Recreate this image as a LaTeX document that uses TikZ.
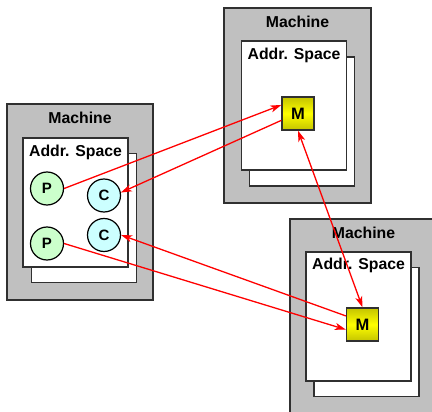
\documentclass[tikz,border=0pt]{standalone}
\usepackage{fontspec}
\setmainfont{Liberation Sans}
\usetikzlibrary{arrows.meta,calc}
\definecolor{machinegray}{HTML}{C0C0C0}
\definecolor{edgegray}{HTML}{303030}
\definecolor{pgreen}{HTML}{CCFFCC}
\definecolor{ccyan}{HTML}{CCFFFF}
\definecolor{olive}{HTML}{C4C400}
\tikzset{
  machine/.style={rectangle, draw=edgegray, fill=machinegray, line width=1.4pt, inner sep=0pt},
  page/.style={rectangle, draw=edgegray, fill=white, line width=1.4pt, inner sep=0pt,
               minimum width=105pt, minimum height=129pt},
  title/.style={font=\fontsize{15.8}{18}\selectfont\bfseries, inner sep=0pt},
  proc/.style={circle, draw=black, line width=1.2pt, minimum size=33pt, inner sep=0pt,
               font=\fontsize{15}{17}\selectfont\bfseries},
  pnode/.style={proc, fill=pgreen},
  cnode/.style={proc, fill=ccyan},
  mnode/.style={rectangle, draw=edgegray, line width=1.2pt, minimum width=32pt, minimum height=33pt,
                inner sep=0pt, top color=olive, bottom color=olive, middle color=yellow,
                font=\fontsize{16.5}{18}\selectfont\bfseries},
  tip/.tip={Stealth[length=11pt,width=7pt,inset=3pt]},
  link/.style={draw=red, line width=1.3pt, -tip},
  biglink/.style={draw=red, line width=1.3pt, tip-tip}
}
\begin{document}
\begin{tikzpicture}[x=1pt, y=-1pt]
\useasboundingbox (0,0) rectangle (432,412);
\begin{scope}
\clip (0,0) rectangle (432,412);

% machine on the left
\node[machine, minimum width=146pt, minimum height=196pt] (mA) at (80,202) {};
\node[page] (bA) at (84,218) {};
\node[page] (fA) at (75.5,202.5) {};
\node[title] (tA) at (80,118) {Machine};
\node[title] (sA) at (75.5,152) {Addr. Space};
\node[pnode] (P1) at (47,188.5) {P};
\node[pnode] (P2) at (47,243.5) {P};
\node[cnode] (C1) at (104,195.5) {C};
\node[cnode] (C2) at (104,235) {C};

% machine at the top
\node[machine, minimum width=147pt, minimum height=195pt] (mB) at (297.5,105.5) {};
\node[page] (bB) at (302,121.5) {};
\node[page] (fB) at (294,105.5) {};
\node[title] (tB) at (297.5,22) {Machine};
\node[title] (sB) at (294,55) {Addr. Space};
\node[mnode] (Mt) at (298,113.5) {M};

% machine at the bottom right
\node[machine, minimum width=147pt, minimum height=195pt] (mC) at (363.5,316.5) {};
\node[page] (bC) at (366.5,332) {};
\node[page] (fC) at (358.5,316.5) {};
\node[title] (tC) at (363.5,232.5) {Machine};
\node[title] (sC) at (358.5,265.5) {Addr. Space};
\node[mnode] (Mb) at (362.5,324.5) {M};

% connections
\draw[link] (P1.east) -- ($(Mt.north west)!0.25!(Mt.south west)$);
\draw[link] ($(Mt.north west)!0.7!(Mt.south west)$) -- (C1.10);
\draw[link] (P2.east) -- ($(Mb.north west)!0.65!(Mb.south west)$);
\draw[link] ($(Mb.north west)!0.25!(Mb.south west)$) -- (C2.east);
\draw[biglink] (Mt.south) -- (Mb.north);
\end{scope}
\end{tikzpicture}
\end{document}
